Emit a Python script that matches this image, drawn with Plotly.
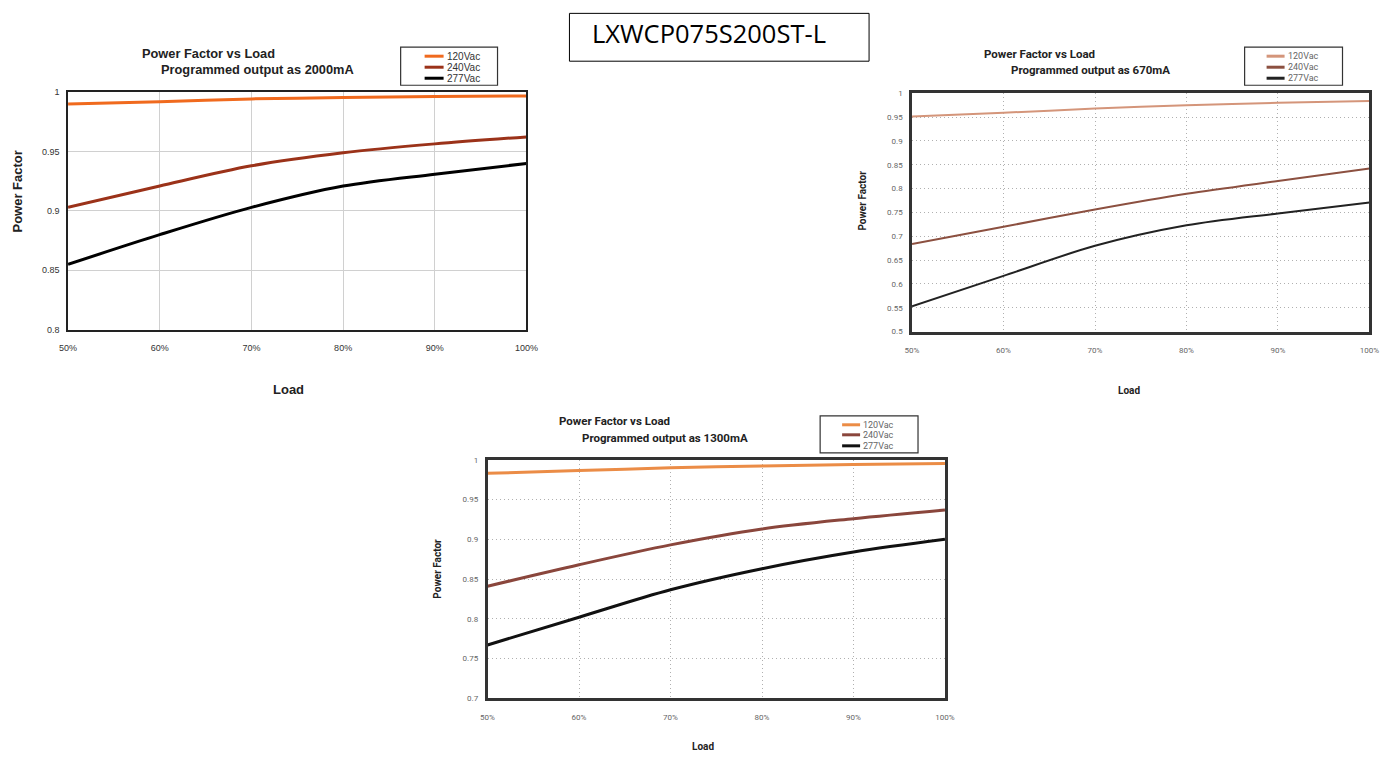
import plotly.graph_objects as go

OFF = 8
FW, FH = 1398 - 2 * OFF, 763 - 2 * OFF
# measured correction between requested and photographed positions
SX, BX = 0.986, 8.0
SY, BY = 0.985, 5.0

# ---------------- data ----------------
load_pct = [50, 60, 70, 80, 90, 100]
x_tick_labels = ["50%", "60%", "70%", "80%", "90%", "100%"]
series_names = ["120Vac", "240Vac", "277Vac"]

# Programmed output 2000 mA
pf2000_120 = [0.990, 0.992, 0.9944, 0.9955, 0.9964, 0.9969]
pf2000_240 = [0.903, 0.921, 0.938, 0.949, 0.9565, 0.9624]
pf2000_277 = [0.855, 0.880, 0.903, 0.921, 0.931, 0.940]

# Programmed output 670 mA
pf670_120 = [0.951, 0.959, 0.968, 0.975, 0.980, 0.984]
pf670_240 = [0.684, 0.720, 0.756, 0.789, 0.816, 0.842]
pf670_277 = [0.553, 0.617, 0.680, 0.723, 0.748, 0.771]

# Programmed output 1300 mA
pf1300_120 = [0.983, 0.9865, 0.990, 0.9924, 0.994, 0.9954]
pf1300_240 = [0.841, 0.868, 0.893, 0.913, 0.926, 0.937]
pf1300_277 = [0.767, 0.802, 0.8365, 0.863, 0.884, 0.900]

main_title = "LXWCP075S200ST-L"
chart_title_1 = "Power Factor vs Load"
subtitles = ["Programmed output as 2000mA", "Programmed output as 670mA", "Programmed output as 1300mA"]
y_title = "Power Factor"
x_title = "Load"

# ---------------- layout helpers (screen px -> paper) ----------------
def px(x):
    m = (x - BX) / SX
    return (m - OFF) / FW

def py(y):
    m = (y - BY) / SY
    return 1 - (m - OFF) / FH

ARIAL = "Liberation Sans, Arial, sans-serif"
NARROW = "Roboto, Liberation Sans, Arial, sans-serif"

charts = [
    dict(series=[pf2000_120, pf2000_240, pf2000_277],
         colors=["#F06A1E", "#9B3219", "#000000"], width=3,
         box=(67, 526, 92, 329), yrange=[0.8, 1.0],
         grid=dict(color="#D0D0D0", dash="solid"),
         axline=dict(color="#222222", width=1.5),
         tickfont=dict(family=ARIAL, size=9, color="#333333"),
         font=ARIAL, title_pos=[(208, 53), (257, 69)], tfs=12.8, axfs=13,
         ytitle_pos=(16, 191), xtitle_pos=(288, 389),
         legend_box=(400, 497, 47, 85), legend_rows=[56, 67, 78],
         legend_line=(424, 443), legend_fs=10, legend_color="#333333"),
    dict(series=[pf670_120, pf670_240, pf670_277],
         colors=["#D4957A", "#8C5040", "#222222"], width=2,
         box=(912, 1370, 93, 331), yrange=[0.5, 1.0],
         grid=dict(color="#B0B0B0", dash="1px,3px"),
         axline=dict(color="#333333", width=2.5),
         tickfont=dict(family=NARROW, size=8, color="#666666"),
         font=NARROW, title_pos=[(1040, 54), (1091, 70)], tfs=11.5, axfs=10,
         ytitle_pos=(862, 200), xtitle_pos=(1129, 390),
         legend_box=(1245, 1343, 47, 85), legend_rows=[56, 67, 78],
         legend_line=(1267, 1285), legend_fs=9, legend_color="#666666"),
    dict(series=[pf1300_120, pf1300_240, pf1300_277],
         colors=["#EB8C46", "#8A463C", "#111111"], width=3,
         box=(487, 945, 459, 697), yrange=[0.7, 1.0],
         grid=dict(color="#B0B0B0", dash="1px,3px"),
         axline=dict(color="#333333", width=2.5),
         tickfont=dict(family=NARROW, size=8, color="#666666"),
         font=NARROW, title_pos=[(614, 420), (665, 437)], tfs=11.5, axfs=10,
         ytitle_pos=(436, 568), xtitle_pos=(703, 745),
         legend_box=(820, 918, 415, 452), legend_rows=[424, 434, 445],
         legend_line=(842, 860), legend_fs=9, legend_color="#666666"),
]

fig = go.Figure()
shapes = []
annotations = []

for i, c in enumerate(charts):
    n = i + 1
    xa = "x" if n == 1 else f"x{n}"
    ya = "y" if n == 1 else f"y{n}"
    for name, vals, col in zip(series_names, c["series"], c["colors"]):
        fig.add_trace(go.Scatter(
            x=load_pct, y=vals, name=name, mode="lines",
            line=dict(color=col, width=c["width"], shape="spline", smoothing=0.9),
            xaxis=xa, yaxis=ya, showlegend=False,
        ))
    x0, x1, y0, y1 = c["box"]
    xkey = "xaxis" if n == 1 else f"xaxis{n}"
    ykey = "yaxis" if n == 1 else f"yaxis{n}"
    fig.update_layout(**{
        xkey: dict(domain=[px(x0), px(x1)], anchor=ya, range=[50, 100],
                   tickvals=load_pct, ticktext=x_tick_labels,
                   showgrid=True, gridcolor=c["grid"]["color"], griddash=c["grid"]["dash"], gridwidth=1,
                   showline=True, linecolor=c["axline"]["color"], linewidth=c["axline"]["width"], mirror=True,
                   zeroline=False, ticks="", tickfont=c["tickfont"], ticklabelstandoff=9),
        ykey: dict(domain=[py(y1), py(y0)], anchor=xa, range=c["yrange"], dtick=0.05,
                   tick0=c["yrange"][0],
                   showgrid=True, gridcolor=c["grid"]["color"], griddash=c["grid"]["dash"], gridwidth=1,
                   showline=True, linecolor=c["axline"]["color"], linewidth=c["axline"]["width"], mirror=True,
                   zeroline=False, ticks="", tickfont=c["tickfont"], ticklabelstandoff=5),
    })
    (tx1, ty1), (tx2, ty2) = c["title_pos"]
    for txt, (tx, ty) in [(chart_title_1, (tx1, ty1)), (subtitles[i], (tx2, ty2))]:
        annotations.append(dict(text=f"<b>{txt}</b>", x=px(tx), y=py(ty), xref="paper", yref="paper",
                                showarrow=False, xanchor="center", yanchor="middle",
                                font=dict(family=c["font"], size=c["tfs"], color="#222222")))
    annotations.append(dict(text=f"<b>{y_title}</b>", x=px(c["ytitle_pos"][0]), y=py(c["ytitle_pos"][1]),
                            xref="paper", yref="paper", showarrow=False, textangle=-90,
                            xanchor="center", yanchor="middle",
                            font=dict(family=c["font"], size=c["axfs"], color="#222222")))
    annotations.append(dict(text=f"<b>{x_title}</b>", x=px(c["xtitle_pos"][0]), y=py(c["xtitle_pos"][1]),
                            xref="paper", yref="paper", showarrow=False,
                            xanchor="center", yanchor="middle",
                            font=dict(family=c["font"], size=c["axfs"], color="#222222")))
    lx0, lx1, ly0, ly1 = c["legend_box"]
    shapes.append(dict(type="rect", xref="paper", yref="paper", x0=px(lx0), x1=px(lx1), y0=py(ly1), y1=py(ly0),
                       line=dict(color="#333333", width=1.2), fillcolor="rgba(255,255,255,0)"))
    sx0, sx1 = c["legend_line"]
    for name, col, ry in zip(series_names, c["colors"], c["legend_rows"]):
        shapes.append(dict(type="line", xref="paper", yref="paper", x0=px(sx0), x1=px(sx1), y0=py(ry), y1=py(ry),
                           line=dict(color=col, width=3)))
        annotations.append(dict(text=name, x=px(sx1 + 1), y=py(ry), xref="paper", yref="paper",
                                showarrow=False, xanchor="left", yanchor="middle",
                                font=dict(family=c["font"], size=c["legend_fs"], color=c["legend_color"])))

shapes.append(dict(type="rect", xref="paper", yref="paper", x0=px(569), x1=px(869), y0=py(61),
                   y1=min(py(4), 0.9995),
                   line=dict(color="#000000", width=1), fillcolor="rgba(255,255,255,0)"))
annotations.append(dict(text=main_title, x=px(590), y=py(33), xref="paper", yref="paper",
                        showarrow=False, xanchor="left", yanchor="middle",
                        font=dict(family="Open Sans, Lato, sans-serif", size=25.5, color="#000000")))

fig.update_layout(
    width=FW, height=FH, autosize=False, margin=dict(l=0, r=0, t=0, b=0),
    paper_bgcolor="white", plot_bgcolor="white",
    shapes=shapes, annotations=annotations, showlegend=False,
)

fig.write_html("out.html", config=dict(displayModeBar=False))
